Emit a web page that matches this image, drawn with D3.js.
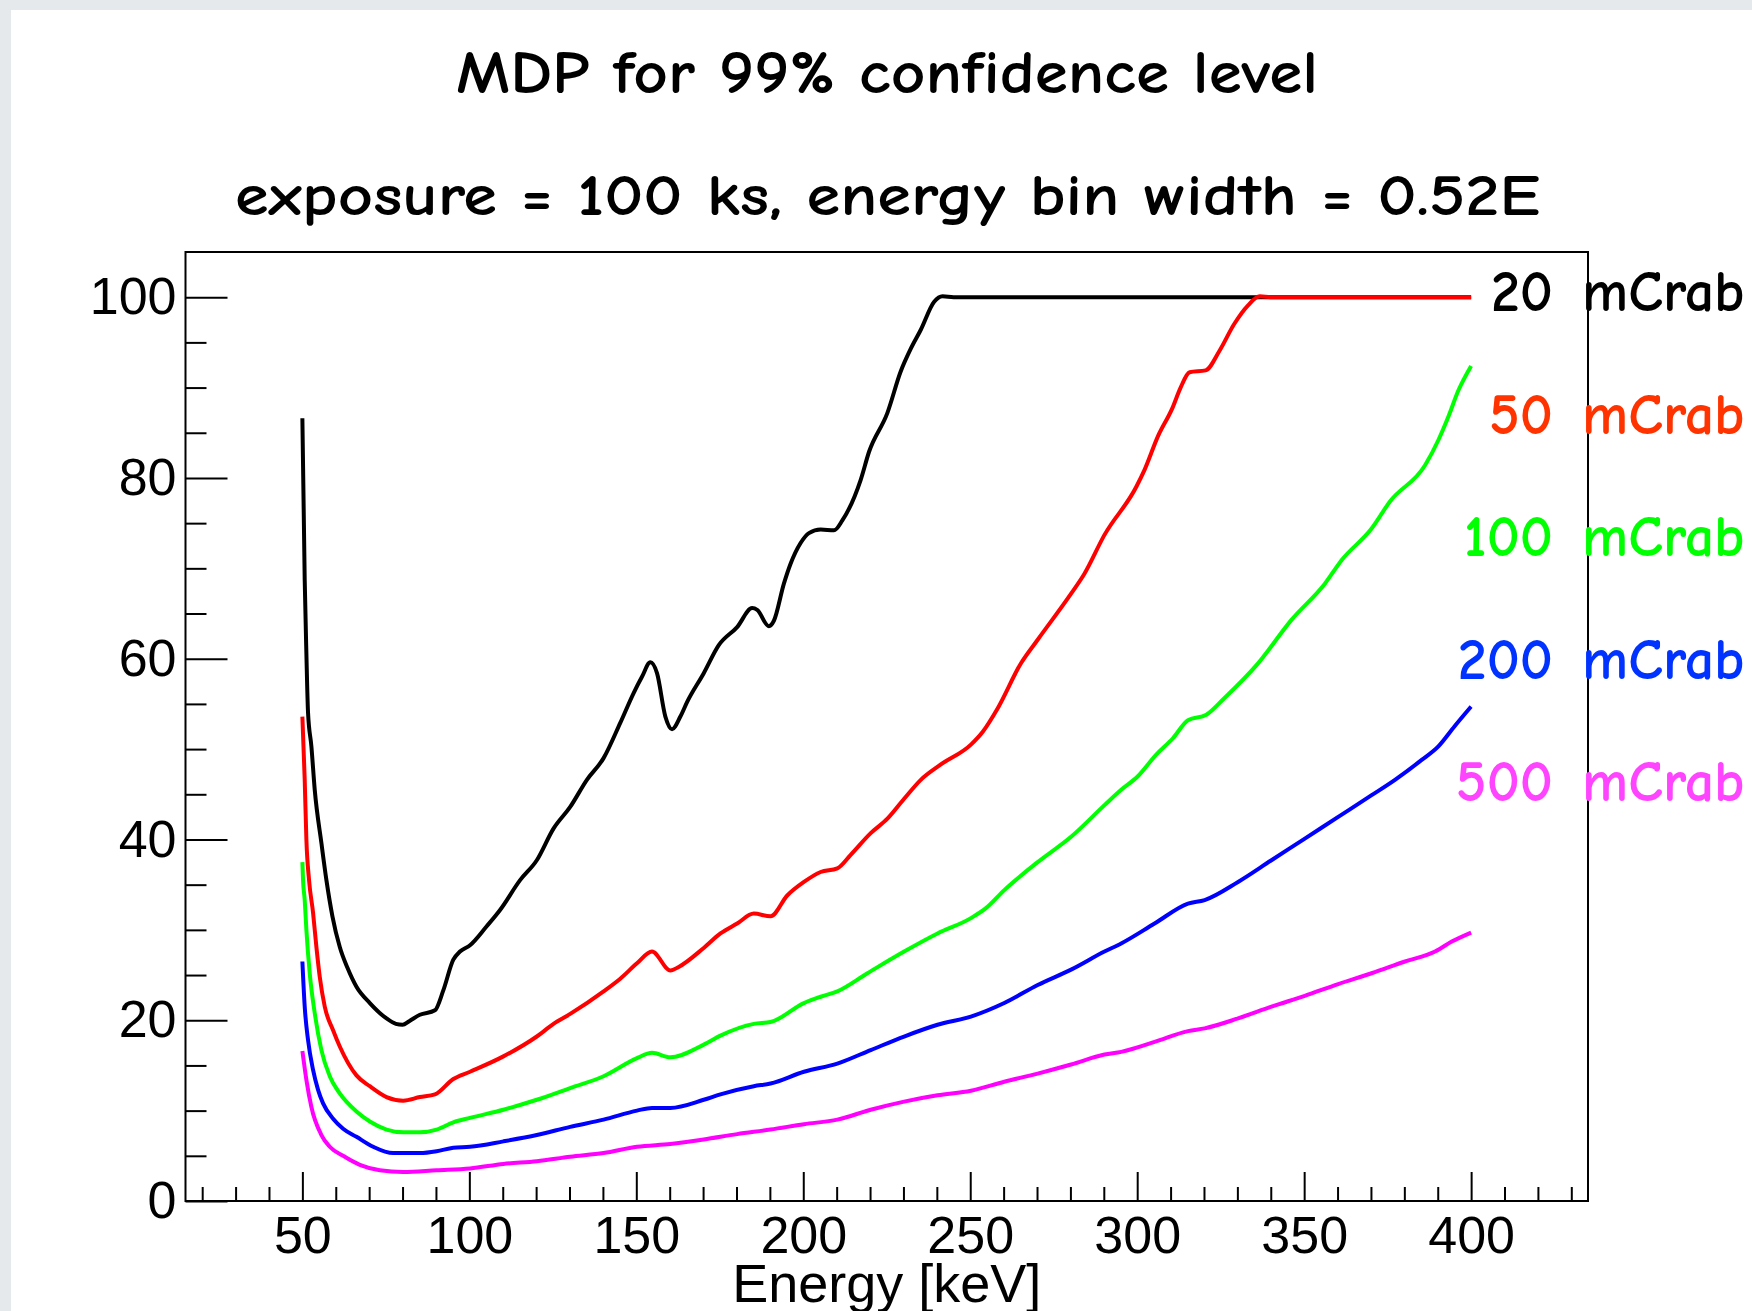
<!DOCTYPE html>
<html>
<head>
<meta charset="utf-8">
<script src="https://cdn.jsdelivr.net/npm/d3@7"></script>
<style>
  body { margin: 0; background: #ffffff; }
  .ax text { font-family: "Liberation Sans", Arial, sans-serif; font-size: 52px; fill: #000; }
  .ax line { stroke: #000; stroke-width: 2px; }
  .ax path { display: none; }
</style>
</head>
<body>
<div id="container"></div>
<script>
// values, [energy keV, MDP %]
var mdp20 = [[50, 86.6], [50.7, 68.7], [51.2, 60.6], [51.7, 54.0], [52.7, 50.3], [53.7, 45.5], [55.7, 39.6], [57.2, 35.5],
  [59, 31.5], [61.2, 28.1], [63.5, 25.8], [66.2, 23.7], [70.2, 21.9], [75.2, 20.2], [78, 19.6], [80, 19.5], [82, 19.9],
  [85.2, 20.6], [89.7, 21.1], [92.2, 23.3], [95.2, 26.7], [97.2, 27.6], [100.2, 28.3], [105.2, 30.4], [109.2, 32.2],
  [115.2, 35.5], [120.2, 37.7], [125.2, 41.2], [130.2, 43.6], [135.2, 46.6], [140.2, 49.0], [145.2, 52.9], [149.2, 56.2],
  [151.7, 58.0], [154.2, 59.6], [156.2, 58.4], [158.7, 53.6], [160.7, 52.2], [163.2, 53.6], [165.2, 55.2], [170.2, 58.4],
  [174.7, 61.5], [180.2, 63.5], [184.7, 65.6], [186.2, 65.4], [189.7, 63.6], [191.2, 64.2], [194.2, 68.3], [196.2, 70.5],
  [199.2, 72.8], [201.7, 73.9], [205.2, 74.3], [209.2, 74.2], [211.7, 75.3], [217.2, 79.8], [219.7, 82.9], [225.2, 87.2],
  [229.2, 91.8], [232.2, 94.3], [235.2, 96.4], [239.2, 99.5], [241.7, 100.1], [245, 100], [400, 100]];

var mdp50 = [[50, 53.6], [50.7, 46.6], [51.2, 40.0], [52.0, 35.5], [53.2, 31.9], [54.2, 28.1], [55.2, 24.8], [56.7, 21.5],
  [59.2, 18.9], [61.2, 17.1], [66.2, 13.9], [70.2, 12.7], [75.2, 11.5], [80.2, 11.1], [85.2, 11.5], [89.7, 11.8],
  [95.2, 13.5], [100.2, 14.3], [110.2, 16.0], [120.2, 18.2], [125.2, 19.6], [130.2, 20.7], [140.2, 23.2], [145.2, 24.6],
  [150.2, 26.3], [154.7, 27.6], [160.2, 25.5], [162.7, 25.9], [170.2, 28.0], [175.2, 29.6], [180.2, 30.7], [185.2, 31.8],
  [190.2, 31.5], [195.2, 33.8], [200.2, 35.3], [205.2, 36.4], [210.2, 36.8], [214.2, 38.3], [220.2, 40.7], [225.2, 42.3],
  [230.2, 44.5], [235.2, 46.6], [241.2, 48.3], [250.2, 50.5], [253.7, 51.9], [258.2, 54.5], [265.2, 59.5], [270.2, 62.1],
  [280.2, 67.2], [284.2, 69.4], [290.2, 73.7], [299.7, 79.0], [302.2, 80.9], [306.2, 84.6], [310.5, 87.7], [313, 90.0],
  [315.7, 91.7], [320.5, 91.9], [324.7, 94.1], [329, 97.0], [333.2, 99.1], [336.7, 100.1], [340, 100], [400, 100]];

var mdp100 = [[50, 37.5], [50.2, 35.5], [50.7, 33.3], [51.2, 30.0], [52.2, 25.2], [53.7, 20.8], [55.7, 16.7], [58.2, 13.8],
  [61.2, 11.9], [66.2, 9.9], [70.2, 8.8], [75.2, 7.9], [80.2, 7.6], [85.2, 7.6], [90.2, 7.9], [95.2, 8.7], [100.2, 9.2],
  [110.2, 10.1], [120.2, 11.2], [130.2, 12.5], [140.2, 13.8], [150.2, 15.8], [154.7, 16.4], [160.2, 15.9], [170.2, 17.3],
  [175.2, 18.3], [185.2, 19.6], [190.2, 19.8], [200.2, 21.9], [205.2, 22.6], [210.2, 23.2], [219.2, 25.2], [230.2, 27.6],
  [240.2, 29.6], [250.2, 31.3], [254.7, 32.4], [260.2, 34.4], [270.2, 37.5], [280.2, 40.3], [290.2, 43.8], [295.2, 45.5],
  [300.2, 47.0], [305.7, 49.4], [310.7, 51.2], [315.2, 53.2], [320.7, 53.8], [326, 55.6], [336, 59.4], [346.2, 64.3],
  [356.2, 68.3], [361.2, 70.9], [370.2, 74.4], [375.7, 77.4], [386.2, 81.4], [390.2, 84.2], [393.2, 86.8], [396.2, 89.7],
  [400, 92.4]];

var mdp200 = [[50, 26.5], [50.7, 21.5], [51.7, 17.8], [53.2, 14.5], [54.7, 12.3], [56.2, 10.8], [59.2, 9.1], [62.2, 8.0],
  [66.2, 7.1], [71.2, 6.0], [77.2, 5.3], [85.2, 5.3], [90.2, 5.5], [95.2, 5.9], [100.2, 6.0], [110.2, 6.6], [120.2, 7.3],
  [130.2, 8.2], [140.2, 9.0], [150.2, 10.0], [154.7, 10.3], [160.2, 10.3], [170.2, 11.2], [175.2, 11.8], [185.2, 12.7],
  [190.2, 13.0], [200.2, 14.3], [210.2, 15.2], [220.2, 16.7], [230.2, 18.2], [240.2, 19.5], [250.2, 20.4], [260.2, 21.9],
  [270.2, 23.9], [280.2, 25.6], [290.2, 27.6], [295.2, 28.5], [305.2, 30.7], [315.2, 32.9], [320.2, 33.3], [330.2, 35.3],
  [340.2, 37.7], [350.2, 40.1], [360.2, 42.5], [370.2, 44.9], [377.2, 46.6], [385.2, 48.8], [390.2, 50.3], [395, 52.5],
  [400, 54.7]];

var mdp500 = [[50, 16.6], [51.2, 13.4], [52.7, 10.4], [55.7, 7.3], [58.2, 6.0], [62.2, 5.0], [67.2, 4.0], [73.2, 3.4],
  [80.2, 3.2], [90.2, 3.4], [100.2, 3.6], [110.2, 4.1], [120.2, 4.4], [130.2, 4.9], [140.2, 5.3], [150.2, 6.0], [160.2, 6.3],
  [170.2, 6.8], [180.2, 7.4], [190.2, 7.9], [200.2, 8.5], [210.2, 9.0], [220.2, 10.1], [230.2, 11.0], [240.2, 11.7],
  [250.2, 12.2], [260.2, 13.2], [270.2, 14.1], [280.2, 15.1], [290.2, 16.2], [295.2, 16.5], [305.2, 17.6], [315.2, 18.8],
  [320.2, 19.1], [330.2, 20.2], [340.2, 21.5], [350.2, 22.7], [360.2, 24.0], [370.2, 25.2], [380.2, 26.5], [389.2, 27.6],
  [394.2, 28.7], [400, 29.7]];

var seriesNames = ["20", "50", "100", "200", "500"];
var lineColors = ["#000000", "#ff0000", "#00ff00", "#0000ff", "#ff00ff"];
var labelColors = ["#000000", "#ff3300", "#00ff00", "#0033ff", "#ff44ff"];
var xTicks = [50, 100, 150, 200, 250, 300, 350, 400];
var yTicks = [0, 20, 40, 60, 80, 100];

var title = "MDP for 99% confidence level",
    subtitle = "exposure = 100 ks, energy bin width = 0.52E",
    xTitle = "Energy [keV]";

var W = 1752, H = 1311;
var frame = {left: 185.5, right: 1588, top: 252, bottom: 1201};
var comic = "'Comic Sans MS', 'Comic Neue', 'Noto Sans', sans-serif";

var x = d3.scaleLinear().domain([15, 435]).range([frame.left, frame.right]);
var y = d3.scaleLinear().domain([0, 105]).range([frame.bottom, frame.top]);

var svg = d3.select("#container").append("svg")
    .attr("width", W)
    .attr("height", H);

// slide background showing at the top / left edge
svg.append("rect").attr("width", W).attr("height", H).attr("fill", "#e6e9ec");
svg.append("rect").attr("x", 11).attr("y", 10).attr("width", W - 11).attr("height", H - 10).attr("fill", "#fff");

svg.append("text")
    .attr("x", 456).attr("y", 93)
    .attr("textLength", 862).attr("lengthAdjust", "spacingAndGlyphs")
    .style("font-family", comic).style("font-size", "60px").style("font-weight", "bold")
    .text(title);

svg.append("text")
    .attr("x", 235).attr("y", 215)
    .attr("textLength", 1305).attr("lengthAdjust", "spacingAndGlyphs")
    .style("font-family", comic).style("font-size", "58px").style("font-weight", "bold")
    .text(subtitle);

// minor ticks
var xMinor = d3.range(20, 431, 10).filter(function(d) { return d % 50 !== 0; });
var yMinor = d3.range(5, 101, 5).filter(function(d) { return d % 20 !== 0; });

svg.append("g").attr("class", "ax")
    .attr("transform", "translate(0," + frame.bottom + ")")
    .call(d3.axisBottom(x).tickValues(xMinor).tickSize(-14).tickFormat(""));

svg.append("g").attr("class", "ax")
    .attr("transform", "translate(0," + frame.bottom + ")")
    .call(d3.axisBottom(x).tickValues(xTicks).tickSize(-29).tickPadding(15).tickFormat(d3.format("d")));

svg.append("g").attr("class", "ax")
    .attr("transform", "translate(" + frame.left + ",0)")
    .call(d3.axisLeft(y).tickValues(yMinor).tickSize(-21).tickFormat(""));

svg.append("g").attr("class", "ax")
    .attr("transform", "translate(" + frame.left + ",0)")
    .call(d3.axisLeft(y).tickValues(yTicks).tickSize(-42).tickPadding(9).tickFormat(d3.format("d")));

svg.append("text")
    .attr("x", (frame.left + frame.right) / 2).attr("y", 1302)
    .attr("text-anchor", "middle")
    .style("font-family", "'Liberation Sans', Arial, sans-serif").style("font-size", "54px")
    .text(xTitle);

var line = d3.line()
    .curve(d3.curveMonotoneX)
    .x(function(d) { return x(d[0]); })
    .y(function(d) { return y(d[1]); });

var allSeries = [mdp20, mdp50, mdp100, mdp200, mdp500];

svg.append("g").selectAll("path")
    .data(allSeries)
    .join("path")
    .attr("d", line)
    .attr("fill", "none")
    .attr("stroke", function(d, i) { return lineColors[i]; })
    .attr("stroke-width", 4)
    .attr("stroke-linejoin", "round");

svg.append("rect")
    .attr("x", frame.left).attr("y", frame.top)
    .attr("width", frame.right - frame.left).attr("height", frame.bottom - frame.top)
    .attr("fill", "none").attr("stroke", "#000").attr("stroke-width", 2);

// labels at the right: number right-aligned, "mCrab" starts after
var labelBase = [311, 434, 556, 679, 801];
var labels = svg.append("g")
    .style("font-family", comic).style("font-size", "58px").style("font-weight", "bold");

labels.selectAll("text.num")
    .data(seriesNames)
    .join("text")
    .attr("class", "num")
    .attr("x", 1553).attr("y", function(d, i) { return labelBase[i]; })
    .attr("text-anchor", "end")
    .attr("fill", function(d, i) { return labelColors[i]; })
    .text(function(d) { return d; });

labels.selectAll("text.unit")
    .data(seriesNames)
    .join("text")
    .attr("class", "unit")
    .attr("x", 1582).attr("y", function(d, i) { return labelBase[i]; })
    .attr("fill", function(d, i) { return labelColors[i]; })
    .text("mCrab");
</script>
</body>
</html>
